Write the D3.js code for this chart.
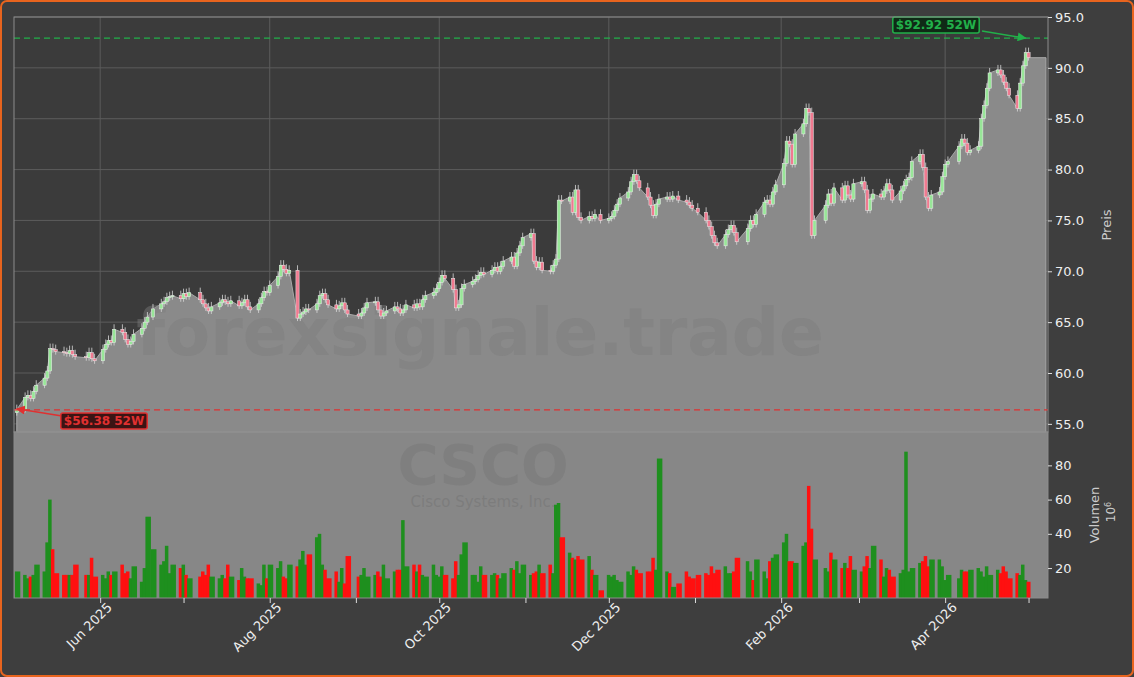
<!DOCTYPE html>
<html><head><meta charset="utf-8">
<script src="https://cdn.jsdelivr.net/npm/d3@7"></script>
<style>body{margin:0;background:#3e3e3e}svg{display:block;font-family:"DejaVu Sans",sans-serif}</style>
</head><body><svg id="c" width="1134" height="677"></svg>
<script>
const closeMay=[56.4,57.6,57.8,57.5,58.2,58.8,59.5,60.2,62.4,62.3,62.1,62.0,61.9,62.2,61.8,61.6,61.5,62.0,61.4,61.2];
const closeJun=[62.3,62.8,63.2,63.0,64.3,64.0,63.3,62.8,63.1,63.8,64.4,65.0,65.5,66.3,66.8,67.0,67.4,67.5,67.6,67.3];
const closeJul=[67.8,67.5,67.9,67.2,66.8,66.4,66.1,66.5,66.9,67.2,67.0,66.8,67.1,66.6,66.9,67.2,66.5,66.2,66.8,67.4,68.0,67.9];
const closeAug=[68.6,69.5,70.6,70.2,69.8,70.1,65.4,65.8,66.0,66.3,66.2,66.8,67.6,67.8,67.2,66.7,66.3,66.6,66.9,66.2,65.8];
const closeSep=[65.6,65.9,66.4,66.9,67.0,66.2,65.6,65.9,66.1,66.5,66.3,65.9,66.2,66.7,66.4,66.8,66.5,67.2,67.6,67.9,68.3];
const closeOct=[68.9,69.6,69.3,68.2,66.4,66.7,68.3,68.7,69.0,69.2,69.6,69.9,69.7,70.1,70.4,70.0,70.5,71.0,71.4,70.5,71.8,72.5,73.3];
const closeNov=[73.7,71.0,70.4,70.9,70.1,70.0,70.6,71.2,77.0,76.9,77.3,75.8,78.0,75.3,75.0,75.4,75.2,75.6,75.0];
const closeDec=[75.2,75.4,76.0,76.6,77.2,77.8,78.8,79.5,78.9,78.2,77.3,76.5,75.5,76.6,77.1,77.3,77.1,77.4,77.0,76.8,76.5,76.2];
const closeJan=[75.8,75.0,74.4,73.5,72.8,72.5,73.6,74.1,74.5,73.8,72.9,74.2,75.0,74.6,75.6,76.8,77.0,76.6,77.8,78.5];
const closeFeb=[80.6,82.8,82.5,80.5,83.5,84.5,86.0,85.6,73.5,75.0,76.5,77.6,76.7,78.2,77.0,78.4,77.5,77.1,78.6];
const closeMar=[78.8,78.0,76.0,77.1,77.6,77.3,77.9,78.6,78.0,77.0,77.9,78.4,79.0,79.2,80.8,81.5,80.2,77.3,76.2,77.5,77.8,79.3];
const closeApr=[80.5,80.8,82.3,83.0,82.6,81.7,81.9,82.3,85.0,86.3,88.0,89.5,89.8,89.3,88.6,88.0,87.3,86.0,88.5,90.2,91.5,91.0];
const volMay=[18,16,14,15,16,22,18,35,60,31,17,16,16,16,16,22,16,16,26,15];
const volJun=[16,14,18,16,18,22,17,18,14,21,12,20,50,31,22,24,33,17,22,20];
const volJul=[22,16,14,15,18,16,22,15,14,16,14,22,15,13,20,15,14,14,11,10,22,14];
const volAug=[22,20,24,15,14,22,21,25,30,22,28,38,40,22,19,14,18,12,20,11,27];
const volSep=[15,16,20,15,16,18,15,22,14,18,19,19,48,21,22,18,22,16,15,22,16];
const volOct=[15,21,16,14,24,16,28,35,16,16,12,21,16,16,17,16,14,17,20,19,24,17,22];
const volNov=[16,17,18,22,17,22,17,57,58,38,29,26,25,27,25,27,19,16,7];
const volDec=[16,15,16,13,12,18,16,21,19,17,18,18,26,19,84,18,17,9,11,18,15,14];
const volJan=[16,17,16,21,17,19,21,17,17,18,26,24,18,13,25,18,14,24,26,28];
const volFeb=[35,40,24,24,23,33,35,68,43,25,20,18,29,25,20,23,20,27,19];
const volMar=[18,21,27,20,33,25,15,20,19,15,17,19,88,18,20,23,24,27,21,25,25,21];
const volApr=[13,16,14,19,18,18,19,20,18,15,21,16,19,17,21,18,14,17,16,22,13,12];
const holidays=["2025-05-26","2025-06-19","2025-07-04","2025-09-01","2025-11-27","2025-12-25","2026-01-01","2026-01-19","2026-02-16","2026-04-03"];
const yTicks=[55,60,65,70,75,80,85,90,95];
const vTicks=[20,40,60,80];
const low52=56.38, high52=92.92;

const closes=[].concat(closeMay,closeJun,closeJul,closeAug,closeSep,closeOct,closeNov,closeDec,closeJan,closeFeb,closeMar,closeApr);
const vols=[].concat(volMay,volJun,volJul,volAug,volSep,volOct,volNov,volDec,volJan,volFeb,volMar,volApr);
const fmt=d3.timeFormat("%Y-%m-%d");
const days=[];
for(let d=new Date(2025,4,2);days.length<closes.length;d=d3.timeDay.offset(d,1)){
  const w=d.getDay(); if(w===0||w===6||holidays.includes(fmt(d)))continue; days.push(new Date(d));
}
const data=closes.map((c,i)=>{const o=i?closes[i-1]:c-0.3;return{date:days[i],o,c,v:vols[i]||15,up:c>=o};});

const svg=d3.select("#c");
const L=14,R=1048,PT=17,PB=432,VB=598;
const x=d3.scaleTime().domain([new Date(2025,4,1),new Date(2026,4,8)]).range([L,R]);
const y=d3.scaleLinear().domain([54.2,95]).range([PB,PT]);
const yv=d3.scaleLinear().domain([2.5,99.5]).range([VB,PB]);

svg.append("rect").attr("x",1).attr("y",1).attr("width",1132).attr("height",675).attr("rx",6).attr("fill","#3e3e3e").attr("stroke","#e8641e").attr("stroke-width",2);
svg.append("rect").attr("x",L).attr("y",PT).attr("width",R-L).attr("height",PB-PT).attr("fill","#3b3b3b");
svg.append("rect").attr("x",L).attr("y",PB).attr("width",R-L).attr("height",VB-PB).attr("fill","#878787");

const months=d3.timeMonth.range(new Date(2025,4,1),new Date(2026,4,8)).filter(d=>x(d)>L+2);
const g=svg.append("g");
g.selectAll(".gx").data(months.filter(d=>d.getMonth()%2===1)).join("line").attr("x1",d=>x(d)).attr("x2",d=>x(d)).attr("y1",PT).attr("y2",PB).attr("stroke","#5c5c5c");
g.selectAll(".gy").data(yTicks).join("line").attr("x1",L).attr("x2",R).attr("y1",d=>y(d)).attr("y2",d=>y(d)).attr("stroke","#5c5c5c");

const ext=data.concat([{date:x.invert(R-2),c:closes[closes.length-1]}]);
svg.append("path").datum(ext).attr("fill","#8a8a8a").attr("stroke","#a8a8a8").attr("stroke-width",1)
 .attr("d",d3.area().x(d=>x(d.date)).y0(PB).y1(d=>y(d.c)));

svg.append("text").attr("x",480).attr("y",355).attr("text-anchor","middle").attr("font-size",66).attr("font-weight","bold").attr("fill","#7c7c7c").attr("fill-opacity",0.45).text("forexsignale.trade");

const cg=svg.append("g");
data.forEach(d=>{
  const cx=x(d.date),t=y(Math.max(d.o,d.c)),b=y(Math.min(d.o,d.c));
  const col=d.up?"#98e698":"#f07a90";
  cg.append("line").attr("x1",cx).attr("x2",cx).attr("y1",t-5).attr("y2",b+3).attr("stroke","#d8d8d8").attr("stroke-width",0.8);
  cg.append("rect").attr("x",cx-1.6).attr("y",t).attr("width",3.2).attr("height",Math.max(1,b-t)).attr("fill",col).attr("stroke","#eeeeee").attr("stroke-width",0.5);
});

svg.append("text").attr("x",483).attr("y",484).attr("text-anchor","middle").attr("font-size",56).attr("font-weight","bold").attr("fill","#7a7a7a").attr("fill-opacity",0.6).text("CSCO");
svg.append("text").attr("x",483).attr("y",507).attr("text-anchor","middle").attr("font-size",15).attr("fill","#7a7a7a").attr("fill-opacity",0.8).text("Cisco Systems, Inc.");
svg.append("g").selectAll("rect").data(data).join("rect")
 .attr("x",d=>x(d.date)-2)
 .attr("width",(d,i)=>i<data.length-1?Math.max(3.5,Math.min(5.5,x(data[i+1].date)-x(d.date)+0.3)):4)
 .attr("y",d=>yv(d.v)).attr("height",d=>VB-yv(d.v)).attr("fill",d=>d.up?"#1e8f1e":"#ff1010");

svg.append("line").attr("x1",L).attr("x2",R).attr("y1",y(low52)).attr("y2",y(low52)).attr("stroke","#e03030").attr("stroke-width",1.3).attr("stroke-dasharray","6,4");
svg.append("line").attr("x1",L).attr("x2",R).attr("y1",y(high52)).attr("y2",y(high52)).attr("stroke","#22b04a").attr("stroke-width",1.3).attr("stroke-dasharray","6,4");
const defs=svg.append("defs");
[["ar","#e03030"],["ag","#22b04a"]].forEach(([id,c])=>defs.append("marker").attr("id",id).attr("viewBox","0 0 10 10").attr("refX",9).attr("refY",5).attr("markerWidth",6).attr("markerHeight",6).attr("orient","auto").append("path").attr("d","M0,0L10,5L0,10z").attr("fill",c));
svg.append("line").attr("x1",62).attr("y1",416).attr("x2",x(data[0].date)).attr("y2",y(low52)-1).attr("stroke","#e03030").attr("stroke-width",1.5).attr("marker-end","url(#ar)");
svg.append("line").attr("x1",982).attr("y1",31).attr("x2",x(data[data.length-2].date)).attr("y2",y(high52)).attr("stroke","#22b04a").attr("stroke-width",1.5).attr("marker-end","url(#ag)");
function lab(cx,cy,txt,c,bg){
  const gg=svg.append("g");
  const t=gg.append("text").attr("x",cx).attr("y",cy+4).attr("text-anchor","middle").attr("font-size",12).attr("font-weight","bold").attr("fill",c).text(txt);
  const bb=t.node().getBBox();
  gg.insert("rect","text").attr("x",bb.x-3).attr("y",bb.y-1).attr("width",bb.width+6).attr("height",bb.height+2).attr("rx",2).attr("fill",bg).attr("stroke",c).attr("stroke-width",1.5);
}
lab(104,421,"$"+low52.toFixed(2)+" 52W","#e03030","#3a1414");
lab(936,25,"$"+high52.toFixed(2)+" 52W","#22b04a","#0f2a16");

svg.append("rect").attr("x",L).attr("y",PT).attr("width",R-L).attr("height",PB-PT).attr("fill","none").attr("stroke","#8c8c8c");
svg.append("rect").attr("x",L).attr("y",PB).attr("width",R-L).attr("height",VB-PB).attr("fill","none").attr("stroke","#8c8c8c");

const ay=svg.append("g").attr("transform",`translate(${R},0)`).call(d3.axisRight(y).tickValues(yTicks).tickFormat(d3.format(".1f")).tickSize(4));
const av=svg.append("g").attr("transform",`translate(${R},0)`).call(d3.axisRight(yv).tickValues(vTicks).tickSize(4));
const ax=svg.append("g").attr("transform",`translate(0,${VB})`).call(d3.axisBottom(x).tickValues(months).tickSize(5).tickFormat(d=>d.getMonth()%2===1?d3.timeFormat("%b %Y")(d):""));
[ay,av,ax].forEach(a=>{a.select(".domain").remove();a.selectAll("line").attr("stroke","#dddddd");a.selectAll("text").attr("fill","#eeeeee").attr("font-size",13).attr("font-family","DejaVu Sans");});
ax.selectAll("text").attr("font-size",13).attr("text-anchor","end").attr("dx","0.1em").attr("dy","0.6em").attr("transform","rotate(-45)");
svg.append("text").attr("transform","translate(1111,225) rotate(-90)").attr("text-anchor","middle").attr("font-size",13).attr("fill","#cccccc").text("Preis");
svg.append("text").attr("transform","translate(1099,515) rotate(-90)").attr("text-anchor","middle").attr("font-size",13).attr("fill","#cccccc").text("Volumen");
const t6=svg.append("text").attr("transform","translate(1115,512) rotate(-90)").attr("text-anchor","middle").attr("font-size",12).attr("fill","#cccccc").text("10");
t6.append("tspan").attr("font-size",8).attr("dy","-0.5em").text("6");
</script></body></html>
